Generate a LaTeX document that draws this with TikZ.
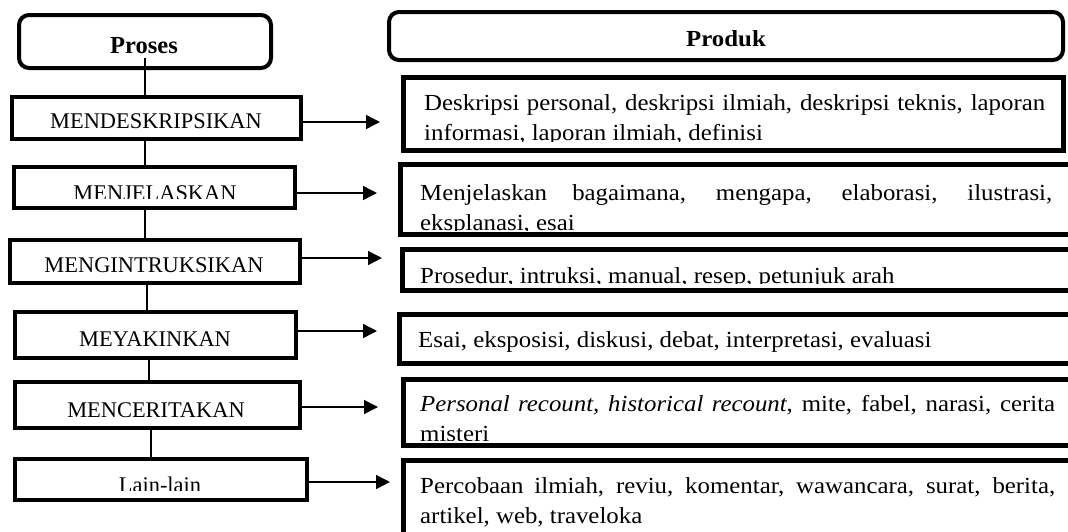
\documentclass[tikz,border=0pt]{standalone}
\usepackage{fontspec}
\setmainfont{Liberation Serif}
\newfontfamily\rfont[FakeStretch=1.08]{Liberation Serif}
\usetikzlibrary{arrows.meta}
\begin{document}
\begin{tikzpicture}[x=1pt,y=-1pt,
  box/.style={draw, line width=4.5pt, inner sep=0pt, rectangle},
  pbox/.style={draw, line width=5pt, inner sep=0pt, rectangle},
  rbox/.style={draw, line width=4pt, rounded corners=10pt, inner sep=0pt},
  ltext/.style={font=\fontsize{22.4}{27}\selectfont, anchor=base, inner sep=0pt},
  htext/.style={font=\fontsize{24.5}{28}\selectfont\bfseries, anchor=base, inner sep=0pt},
  hrtext/.style={font=\rfont\fontsize{23}{28}\selectfont\bfseries, anchor=base, inner sep=0pt},
  rtext/.style={font=\rfont\fontsize{23}{30}\selectfont, anchor=base west, inner sep=0pt},
  arr/.style={-{Triangle[length=14pt,width=14pt]}, line width=1.4pt},
  conn/.style={line width=1.6pt}]
\clip (0,0) rectangle (1068,531);
\fill[white] (0,0) rectangle (1068,531);

% ---------- left column ----------
\node[rbox, minimum width=252pt, minimum height=53pt] (proses) at (145,41.5) {};
\node[htext] (tproses) at (144,53) {Proses};

\node[box, minimum width=289pt, minimum height=42pt] (l1) at (156.5,118) {};
\node[ltext] (tl1) at (156,128.3) {MENDESKRIPSIKAN};

\node[box, minimum width=281pt, minimum height=41pt] (l2) at (154.5,187.5) {};
\begin{scope}
\clip (0,150) rectangle (320,198.5);
\node[ltext] (tl2) at (155,200.5) {MENJELASKAN};
\end{scope}

\node[box, minimum width=290pt, minimum height=43pt] (l3) at (155,261.5) {};
\node[ltext] (tl3) at (154,272) {MENGINTRUKSIKAN};

\node[box, minimum width=281pt, minimum height=46pt] (l4) at (155.5,335) {};
\node[ltext] (tl4) at (155,346.7) {MEYAKINKAN};

\node[box, minimum width=285pt, minimum height=46pt] (l5) at (157.5,405) {};
\node[ltext] (tl5) at (156,417) {MENCERITAKAN};

\node[box, minimum width=292pt, minimum height=41pt] (l6) at (161,479.5) {};
\begin{scope}
\clip (0,460) rectangle (320,490);
\node[ltext] (tl6) at (160,492) {Lain-lain};
\end{scope}

% vertical connectors
\coordinate (c0) at (145,58);
\coordinate (v1) at (145,0);
\coordinate (v2) at (145,0);
\coordinate (v3) at (147,0);
\coordinate (v4) at (149,0);
\coordinate (v5) at (151,0);
\draw[conn] (c0) -- (c0 |- l1.north);
\draw[conn] (l1.south -| v1) -- (l2.north -| v1);
\draw[conn] (l2.south -| v2) -- (l3.north -| v2);
\draw[conn] (l3.south -| v3) -- (l4.north -| v3);
\draw[conn] (l4.south -| v4) -- (l5.north -| v4);
\draw[conn] (l5.south -| v5) -- (l6.north -| v5);

% ---------- right column ----------
\node[rbox, minimum width=674pt, minimum height=48pt] (produk) at (726,36) {};
\node[hrtext] (tproduk) at (726,46) {Produk};

\node[pbox, minimum width=660pt, minimum height=73pt] (p1) at (733.5,114) {};
\begin{scope}
\clip (400,70) rectangle (1068,141);
\node[rtext] (tp1) at (424,110.5) {\parbox[t]{621pt}{\makebox[621pt][s]{Deskripsi personal, deskripsi ilmiah, deskripsi teknis, laporan}\\informasi, laporan ilmiah, definisi}};
\end{scope}

\node[pbox, minimum width=684.5pt, minimum height=70pt] (p2) at (742.75,199.5) {};
\begin{scope}
\clip (400,160) rectangle (1068,230.5);
\node[rtext] (tp2) at (420,200) {\parbox[t]{632pt}{\makebox[632pt][s]{Menjelaskan bagaimana, mengapa, elaborasi, ilustrasi,}\\eksplanasi, esai}};
\end{scope}

\node[pbox, minimum width=682.5pt, minimum height=41pt] (p3) at (743.75,270) {};
\begin{scope}
\clip (400,245) rectangle (1068,283.8);
\node[rtext] (tp3) at (420,283) {Prosedur, intruksi, manual, resep, petunjuk arah};
\end{scope}

\node[pbox, minimum width=685.5pt, minimum height=49pt] (p4) at (742.25,339) {};
\node[rtext] (tp4) at (418,347) {Esai, eksposisi, diskusi, debat, interpretasi, evaluasi};

\node[pbox, minimum width=681.5pt, minimum height=66pt] (p5) at (744.25,412.5) {};
\begin{scope}
\clip (400,375) rectangle (1068,440.5);
\node[rtext] (tp5) at (420,411.7) {\parbox[t]{635pt}{\makebox[635pt][s]{\itshape Personal recount, historical recount\upshape, mite, fabel, narasi, cerita}\\misteri}};
\end{scope}

\node[pbox, minimum width=681.5pt, minimum height=99.5pt] (p6) at (744.25,510.25) {};
\node[rtext] (tp6) at (420,493.3) {\parbox[t]{635pt}{\makebox[635pt][s]{Percobaan ilmiah, reviu, komentar, wawancara, surat, berita,}\\artikel, web, traveloka}};

% ---------- arrows ----------
\coordinate (t1) at (380,122);
\coordinate (t2) at (377,193);
\coordinate (t3) at (382,258);
\coordinate (t4) at (377,331);
\coordinate (t5) at (378,407);
\coordinate (t6) at (390,482);
\draw[arr] (l1.east |- t1) -- (t1);
\draw[arr] (l2.east |- t2) -- (t2);
\draw[arr] (l3.east |- t3) -- (t3);
\draw[arr] (l4.east |- t4) -- (t4);
\draw[arr] (l5.east |- t5) -- (t5);
\draw[arr] (l6.east |- t6) -- (t6);
\end{tikzpicture}
\end{document}
